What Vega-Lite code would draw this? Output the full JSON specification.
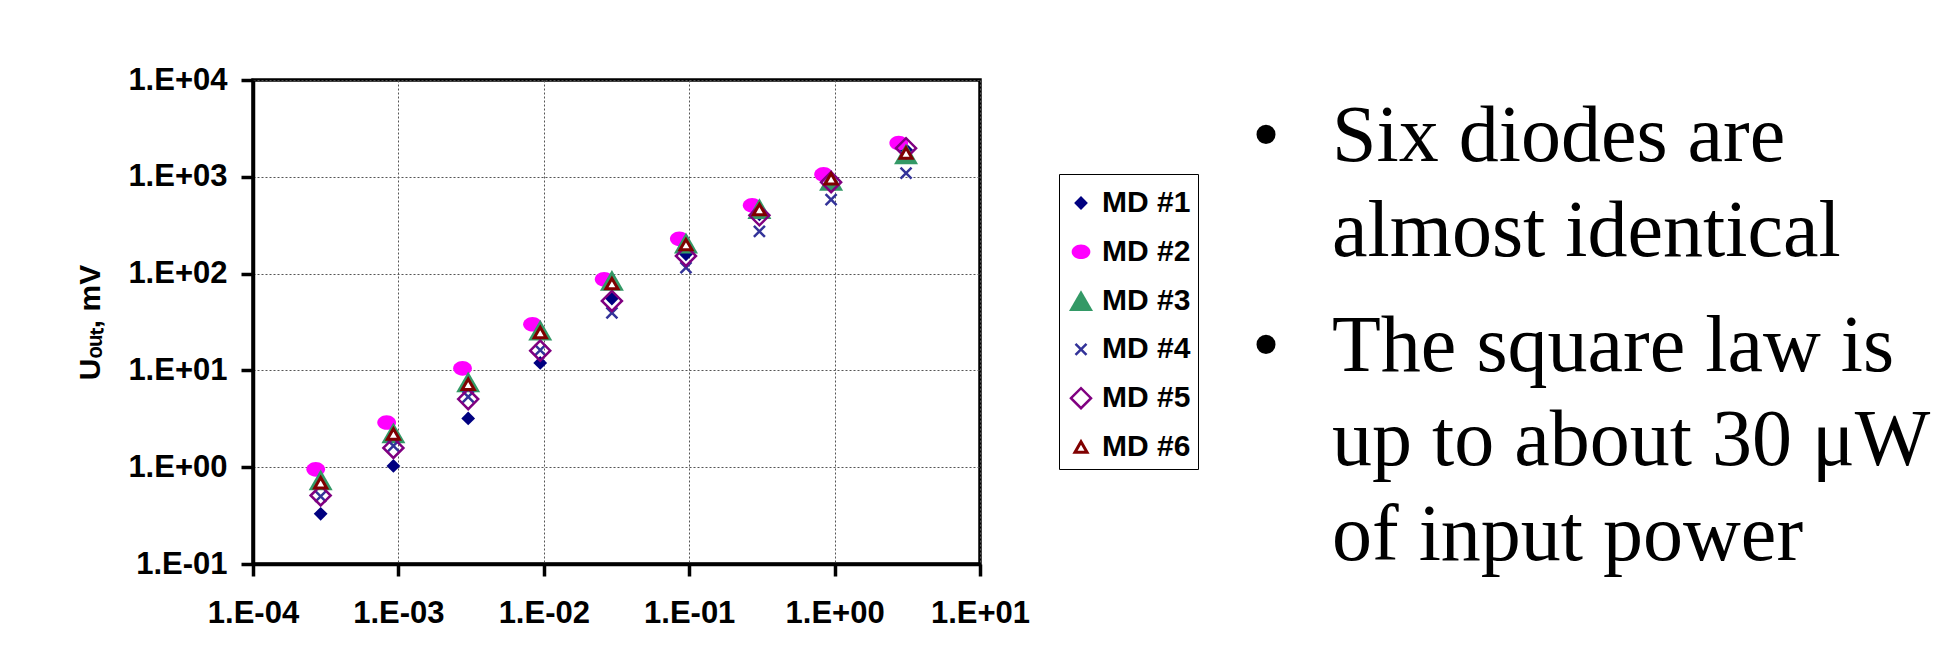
{
  "$schema": "https://vega.github.io/schema/vega-lite/v6.json",
  "background": "white",
  "padding": {"left": 74, "top": 62, "right": 0, "bottom": 0},
  "spacing": 220,
  "config": {
    "font": "Liberation Sans",
    "axis": {
      "labelFont": "Liberation Sans", "labelFontSize": 31, "labelFontWeight": "bold", "labelColor": "black",
      "titleFont": "Liberation Sans", "titleFontSize": 30, "titleFontWeight": "bold", "titleColor": "black",
      "domainColor": "black", "domainWidth": 3.5, "tickColor": "black", "tickWidth": 3.5, "tickSize": 12,
      "gridColor": "#555555", "gridDash": [2, 2], "gridWidth": 1,
      "labelFlush": false, "labelOverlap": false
    },
    "legend": {
      "strokeColor": "black", "padding": 7,
      "labelFont": "Liberation Sans", "labelFontSize": 30, "labelFontWeight": "bold", "labelColor": "black",
      "labelLimit": 400, "labelOffset": 6, "rowPadding": 18.8,
      "titleFontSize": 1, "titlePadding": 6
    }
  },
  "hconcat": [
    {
      "width": 727,
      "height": 484,
      "view": {"stroke": "black", "strokeWidth": 3.5},
      "data": {"values": [
        {"series": "MD #1", "P": 0.000292, "U": 0.33},
        {"series": "MD #1", "P": 0.000924, "U": 1.03},
        {"series": "MD #1", "P": 0.00302, "U": 3.19},
        {"series": "MD #1", "P": 0.00945, "U": 11.95},
        {"series": "MD #1", "P": 0.0294, "U": 55.2},
        {"series": "MD #1", "P": 0.095, "U": 158},
        {"series": "MD #1", "P": 0.304, "U": 410},
        {"series": "MD #1", "P": 0.946, "U": 900},
        {"series": "MD #1", "P": 3.1, "U": 1900},
        {"series": "MD #2", "P": 0.00027, "U": 0.95},
        {"series": "MD #2", "P": 0.00083, "U": 2.9},
        {"series": "MD #2", "P": 0.00276, "U": 10.5},
        {"series": "MD #2", "P": 0.00836, "U": 30.0},
        {"series": "MD #2", "P": 0.026, "U": 87.3},
        {"series": "MD #2", "P": 0.0855, "U": 229},
        {"series": "MD #2", "P": 0.271, "U": 507},
        {"series": "MD #2", "P": 0.84, "U": 1059},
        {"series": "MD #2", "P": 2.76, "U": 2228},
        {"series": "MD #3", "P": 0.000292, "U": 0.74},
        {"series": "MD #3", "P": 0.000924, "U": 2.26},
        {"series": "MD #3", "P": 0.00302, "U": 7.6},
        {"series": "MD #3", "P": 0.00945, "U": 26.0},
        {"series": "MD #3", "P": 0.0294, "U": 85.3},
        {"series": "MD #3", "P": 0.095, "U": 207},
        {"series": "MD #3", "P": 0.304, "U": 469},
        {"series": "MD #3", "P": 0.946, "U": 918},
        {"series": "MD #3", "P": 3.1, "U": 1729},
        {"series": "MD #4", "P": 0.000292, "U": 0.5},
        {"series": "MD #4", "P": 0.000924, "U": 1.66},
        {"series": "MD #4", "P": 0.00302, "U": 5.33},
        {"series": "MD #4", "P": 0.00945, "U": 16.2},
        {"series": "MD #4", "P": 0.0294, "U": 39.2},
        {"series": "MD #4", "P": 0.095, "U": 115},
        {"series": "MD #4", "P": 0.304, "U": 273},
        {"series": "MD #4", "P": 0.946, "U": 581},
        {"series": "MD #4", "P": 3.1, "U": 1092},
        {"series": "MD #5", "P": 0.000292, "U": 0.51},
        {"series": "MD #5", "P": 0.000924, "U": 1.58},
        {"series": "MD #5", "P": 0.00302, "U": 5.05},
        {"series": "MD #5", "P": 0.00945, "U": 16.0},
        {"series": "MD #5", "P": 0.0294, "U": 52.2},
        {"series": "MD #5", "P": 0.095, "U": 152},
        {"series": "MD #5", "P": 0.304, "U": 400},
        {"series": "MD #5", "P": 0.946, "U": 881},
        {"series": "MD #5", "P": 3.1, "U": 1977},
        {"series": "MD #6", "P": 0.000292, "U": 0.69},
        {"series": "MD #6", "P": 0.000924, "U": 2.2},
        {"series": "MD #6", "P": 0.00302, "U": 7.2},
        {"series": "MD #6", "P": 0.00945, "U": 24.6},
        {"series": "MD #6", "P": 0.0294, "U": 78.8},
        {"series": "MD #6", "P": 0.095, "U": 199},
        {"series": "MD #6", "P": 0.304, "U": 460},
        {"series": "MD #6", "P": 0.946, "U": 955},
        {"series": "MD #6", "P": 3.1, "U": 1760}
      ]},
      "mark": {"type": "point", "filled": true, "opacity": 1},
      "encoding": {
        "x": {
          "field": "P", "type": "quantitative",
          "scale": {"type": "log", "domain": [0.0001, 10], "nice": false},
          "axis": {
            "title": null, "values": [0.0001, 0.001, 0.01, 0.1, 1, 10], "labelPadding": 22,
            "labelExpr": "'1.E' + (datum.value < 1 ? '-' : '+') + (abs(round(log(datum.value)/LN10)) < 10 ? '0' : '') + abs(round(log(datum.value)/LN10))"
          }
        },
        "y": {
          "field": "U", "type": "quantitative",
          "scale": {"type": "log", "domain": [0.1, 10000], "nice": false},
          "axis": {
            "title": "Uₒᵤₜ, mV", "titlePadding": 22, "values": [0.1, 1, 10, 100, 1000, 10000], "labelPadding": 14,
            "labelExpr": "'1.E' + (datum.value < 1 ? '-' : '+') + (abs(round(log(datum.value)/LN10)) < 10 ? '0' : '') + abs(round(log(datum.value)/LN10))"
          }
        },
        "shape": {
          "field": "series", "type": "nominal",
          "scale": {
            "domain": ["MD #1", "MD #2", "MD #3", "MD #4", "MD #5", "MD #6"],
            "range": ["diamond", "M-1,0A1,0.78 0 1,0 1,0A1,0.78 0 1,0 -1,0Z", "triangle-up", "M-1,-1L1,1M-1,1L1,-1", "diamond", "triangle-up"]
          },
          "legend": {"orient": "none", "legendX": 806, "legendY": 94, "title": " "}
        },
        "fill": {
          "field": "series", "type": "nominal",
          "scale": {
            "domain": ["MD #1", "MD #2", "MD #3", "MD #4", "MD #5", "MD #6"],
            "range": ["#000080", "#FF00FF", "#339966", "transparent", "transparent", "#FFFFFF"]
          }
        },
        "stroke": {
          "field": "series", "type": "nominal",
          "scale": {
            "domain": ["MD #1", "MD #2", "MD #3", "MD #4", "MD #5", "MD #6"],
            "range": ["#000080", "#FF00FF", "#339966", "#333399", "#800080", "#800000"]
          }
        },
        "size": {
          "field": "series", "type": "nominal",
          "scale": {
            "type": "ordinal",
            "domain": ["MD #1", "MD #2", "MD #3", "MD #4", "MD #5", "MD #6"],
            "range": [190, 350, 576, 121, 400, 144]
          }
        },
        "strokeWidth": {
          "field": "series", "type": "nominal",
          "scale": {
            "type": "ordinal",
            "domain": ["MD #1", "MD #2", "MD #3", "MD #4", "MD #5", "MD #6"],
            "range": [0, 0, 0, 2.5, 2.5, 3]
          }
        }
      }
    },
    {
      "width": 80,
      "height": 372,
      "view": {"stroke": null},
      "data": {"values": [
        {"para": 1, "lines": ["Six diodes are", "almost identical"]},
        {"para": 2, "lines": ["The square law is", "up to about 30 μW", "of input power"]}
      ]},
      "layer": [
        {
          "mark": {"type": "text", "font": "Liberation Serif", "fontSize": 80, "align": "left", "baseline": "alphabetic", "color": "black"},
          "encoding": {
            "x": {"datum": "bullet", "type": "nominal", "scale": {"type": "point", "domain": ["bullet", "text"], "padding": 0}, "axis": null},
            "y": {"field": "para", "type": "ordinal", "scale": {"type": "point", "padding": 0.386}, "axis": null},
            "text": {"value": "•"}
          }
        },
        {
          "mark": {"type": "text", "font": "Liberation Serif", "fontSize": 80, "align": "left", "baseline": "alphabetic", "lineHeight": 94.5, "color": "black"},
          "encoding": {
            "x": {"datum": "text", "type": "nominal", "scale": {"type": "point", "domain": ["bullet", "text"], "padding": 0}, "axis": null},
            "y": {"field": "para", "type": "ordinal", "scale": {"type": "point", "padding": 0.386}, "axis": null},
            "text": {"field": "lines", "type": "nominal"}
          }
        }
      ]
    }
  ]
}
